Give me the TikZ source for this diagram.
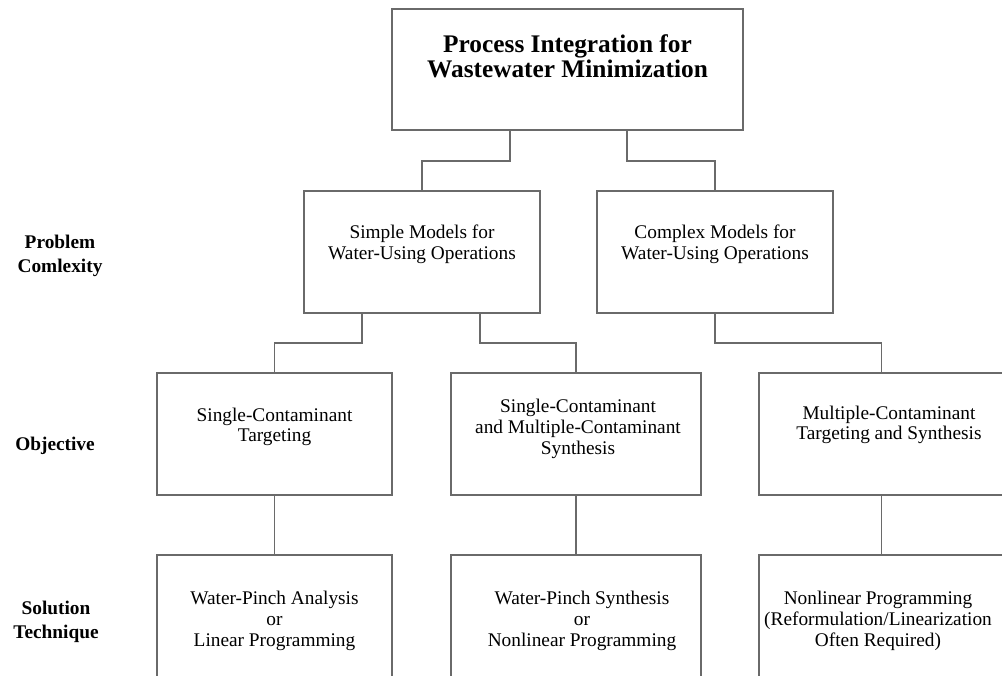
\documentclass[tikz,border=0pt]{standalone}
\usepackage{fontspec}
\setmainfont{Liberation Serif}
\usetikzlibrary{positioning}
\definecolor{linegray}{HTML}{6A6A6A}
\tikzset{
  blk/.style={draw=linegray, line width=1pt, inner sep=0pt, minimum height=91.5pt},
  tallblk/.style={blk, minimum height=101.25pt},
  ln/.style={draw=linegray, line width=1pt},
  txt/.style={align=center, inner sep=0pt, font=\fontsize{14.5}{15.5}\selectfont},
  ttl/.style={align=center, inner sep=0pt, font=\fontsize{19}{19}\selectfont\bfseries},
  lbl/.style={txt, font=\fontsize{14.5}{18.5}\selectfont\bfseries},
}

\begin{document}
\begin{tikzpicture}[x=0.75pt,y=-0.75pt]
    \useasboundingbox (0,0) rectangle (1002,675);
    \clip (0,0) rectangle (1002,675);
    % boxes
    \node[blk, minimum width=263.25pt, minimum height=90.75pt] (top) at (567.5,69.5) {};
    \node[blk, minimum width=177pt] (simple) at (422,252) {};
    \node[blk, minimum width=177pt] (complex) at (715,252) {};
    \node[blk, minimum width=176.25pt] (single) at (274.5,434) {};
    \node[blk, minimum width=187.5pt] (both) at (576,434) {};
    \node[blk, minimum width=183.75pt] (multi) at (881.5,434) {};
    \node[tallblk, minimum width=176.25pt] (pinchA) at (274.5,622.5) {};
    \node[tallblk, minimum width=187.5pt] (pinchS) at (576,622.5) {};
    \node[tallblk, minimum width=183.75pt] (nlp) at (881.5,622.5) {};
    % texts
    \node[ttl] (t-top) at (567.5,56) {Process Integration for\\Wastewater Minimization};
    \node[txt] (t-simple) at (422,244) {Simple Models for\\Water-Using Operations};
    \node[txt] (t-complex) at (715,244) {Complex Models for\\Water-Using Operations};
    \node[txt] (t-single) at (274.5,427) {Single-Contaminant\\Targeting};
    \node[txt] (t-both) at (578,429) {Single-Contaminant\\and Multiple-Contaminant\\Synthesis};
    \node[txt] (t-multi) at (889,425) {Multiple-Contaminant\\Targeting and Synthesis};
    \node[txt] (t-pinchA) at (274.5,621) {Water-Pinch Analysis\\or\\Linear Programming};
    \node[txt] (t-pinchS) at (582,621) {Water-Pinch Synthesis\\or\\Nonlinear Programming};
    \node[txt] (t-nlp) at (878,621) {Nonlinear Programming\\(Reformulation/Linearization\\Often Required)};
    % row labels
    \node[lbl] (l-problem) at (60,256) {Problem\\Comlexity};
    \node[lbl] (l-objective) at (55,446) {Objective};
    \node[lbl] (l-solution) at (56,622) {Solution\\Technique};
    % connectors
    \draw[ln] (top.south -| 510,0) -- (510,161) -| (simple.north);
    \draw[ln] (top.south -| 627,0) -- (627,161) -| (complex.north);
    \draw[ln] (simple.south -| 362,0) -- (362,343) -| (single.north);
    \draw[ln] (simple.south -| 480,0) -- (480,343) -| (both.north);
    \draw[ln] (complex.south) -- (715,343) -| (multi.north);
    \draw[ln] (single.south) -- (pinchA.north);
    \draw[ln] (both.south) -- (pinchS.north);
    \draw[ln] (multi.south) -- (nlp.north);
\end{tikzpicture}
\end{document}
